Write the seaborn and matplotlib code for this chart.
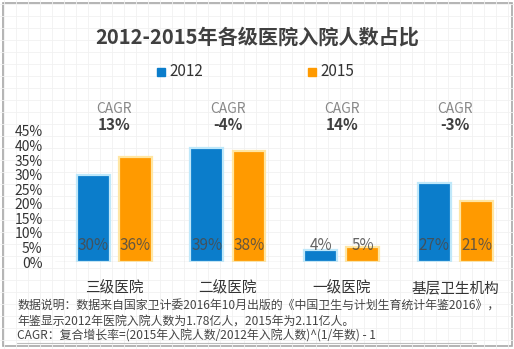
import matplotlib
matplotlib.use("Agg")
import matplotlib.pyplot as plt
import seaborn as sns
import pandas as pd
from matplotlib.patches import Rectangle

sns.set_theme(style="white")
plt.rcParams['font.family'] = ['Noto Sans CJK SC', 'DejaVu Sans']

categories = ["三级医院", "二级医院", "一级医院", "基层卫生机构"]
years = ["2012", "2015"]
share_2012 = [30, 39, 4, 27]
share_2015 = [36, 38, 5, 21]
cagr = ["13%", "-4%", "14%", "-3%"]
yticks = [0, 5, 10, 15, 20, 25, 30, 35, 40, 45]
title = "2012-2015年各级医院入院人数占比"
notes = ["数据说明：数据来自国家卫计委2016年10月出版的《中国卫生与计划生育统计年鉴2016》，",
         "年鉴显示2012年医院入院人数为1.78亿人，2015年为2.11亿人。",
         "CAGR：复合增长率=(2015年入院人数/2012年入院人数)^(1/年数) - 1"]

df = pd.DataFrame({
    "category": categories * 2,
    "year": [years[0]] * 4 + [years[1]] * 4,
    "share": share_2012 + share_2015,
})

W, H = 514, 349
fig = plt.figure(figsize=(W / 100, H / 100), dpi=100)

# background faint grid
bg = fig.add_axes([0, 0, 1, 1], zorder=-10)
bg.set_xlim(0, W); bg.set_ylim(H, 0)
for x in range(4, W, 12):
    bg.axvline(x, color="#f1f1f1", lw=0.6)
for y in range(4, H, 12):
    bg.axhline(y, color="#f1f1f1", lw=0.6)
bg.add_patch(Rectangle((2.5, 3), W - 5, H - 6, fill=False, ec="#a8a8a8", lw=1.2))
bg.axis("off")

def fx(px): return px / W
def fy(py): return 1 - py / H

ax = fig.add_axes([fx(55), fy(262), fx(455), 131 / H])
colors = {"2012": "#0b7dcb", "2015": "#ff9a00"}
sns.barplot(data=df, x="category", y="share", hue="year", palette=colors,
            width=0.74, gap=0.22, ax=ax, legend=False, saturation=1)
edge = {"2012": "#bfe8fa", "2015": "#ffe6a3"}
for container, yr in zip(ax.containers, years):
    for bar in container:
        bar.set_edgecolor(edge[yr]); bar.set_linewidth(1.6)
    for bar, v in zip(container, share_2012 if yr == "2012" else share_2015):
        ax.text(bar.get_x() + bar.get_width() / 2, 5.8, f"{v}%", ha="center", va="center",
                fontsize=11, color="#4a4a4a", alpha=0.85)

ax.set_xlim(-0.52, 3.48)
ax.set_ylim(0, 45)
ax.set_yticks(yticks)
ax.set_yticklabels([f"{t}%" for t in yticks], fontsize=10, color="#333333")
ax.tick_params(axis="y", length=0, pad=9)
ax.tick_params(axis="x", length=0, pad=14)
ax.set_xticks(range(4))
ax.set_xticklabels(categories, fontsize=10.5, color="#333333")
ax.set_xlabel(""); ax.set_ylabel("")
for s in ax.spines.values():
    s.set_visible(False)
ax.axhline(0, color="#d9d9d9", lw=1)
ax.patch.set_alpha(0)

for i, c in enumerate(cagr):
    ax.text(i, 52.5, "CAGR", ha="center", va="center", fontsize=10, color="#888888", clip_on=False)
    ax.text(i, 47.2, c, ha="center", va="center", fontsize=11, color="#404040",
            fontweight="bold", clip_on=False)

fig.text(fx(257), fy(37), title, ha="center", va="center", fontsize=14.5,
         fontweight="bold", color="#404040")

# legend
for px, yr in [(157, "2012"), (308, "2015")]:
    bg.add_patch(Rectangle((px, 68), 8, 8, color=colors[yr], zorder=5))
    bg.text(px + 12, 72, yr, ha="left", va="center", fontsize=11, color="#333333")

for i, line in enumerate(notes):
    bg.text(17, 306 + i * 15, line, ha="left", va="center", fontsize=8.6, color="#444444")
bg.plot([17, 476], [343, 343], color="#bdbdbd", lw=0.8)

fig.savefig("out.png", dpi=100)
